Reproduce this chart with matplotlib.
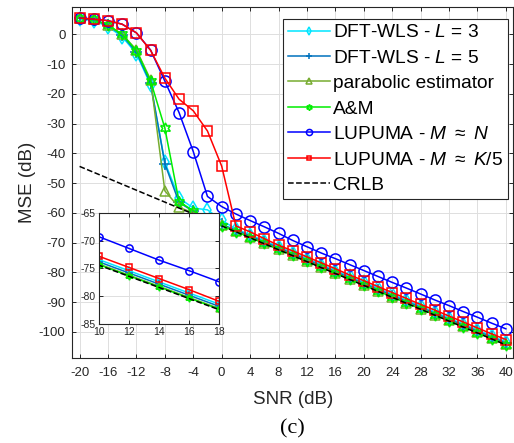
import matplotlib.pyplot as plt

plt.rcParams['font.family'] = ['Liberation Sans', 'DejaVu Sans']
plt.rcParams['mathtext.fontset'] = 'custom'
plt.rcParams['mathtext.rm'] = 'Liberation Sans'
plt.rcParams['mathtext.it'] = 'Liberation Sans:italic'
plt.rcParams['axes.unicode_minus'] = False

snr = [-20, -18, -16, -14, -12, -10, -8, -6, -4, -2, 0, 2, 4, 6, 8, 10,
       12, 14, 16, 18, 20, 22, 24, 26, 28, 30, 32, 34, 36, 38, 40]

dft_l3 = [5.2, 4.6, 2.6, -0.8, -6.5, -17.0, -43.0, -55.0, -58.4, -59.0, -62.5,
          -65.4, -67.4, -69.4, -71.4, -73.4, -75.4, -77.4, -79.4, -81.4, -83.4,
          -85.4, -87.4, -89.4, -91.4, -93.4, -95.4, -97.4, -99.4, -101.4, -103.4]
dft_l5 = [5.4, 4.9, 3.0, -0.3, -6.0, -16.5, -43.5, -56.5, -59.5, -62.0, -63.9,
          -65.8, -67.8, -69.8, -71.8, -73.8, -75.8, -77.8, -79.8, -81.8, -83.8,
          -85.8, -87.8, -89.8, -91.8, -93.8, -95.8, -97.8, -99.8, -101.8, -103.8]
parabolic = [5.5, 5.0, 3.1, 0.0, -5.2, -15.3, -52.6, -58.2, -60.0, -62.2, -64.2,
             -66.2, -68.2, -70.2, -72.2, -74.2, -76.2, -78.2, -80.2, -82.2, -84.2,
             -86.2, -88.2, -90.2, -92.2, -94.2, -96.2, -98.2, -100.2, -102.2, -104.2]
am = [5.5, 5.0, 3.1, 0.0, -5.5, -15.7, -31.5, -56.2, -59.3, -62.0, -64.3,
      -66.3, -68.3, -70.3, -72.3, -74.3, -76.3, -78.3, -80.3, -82.3, -84.3,
      -86.3, -88.3, -90.3, -92.3, -94.3, -96.3, -98.3, -100.3, -102.3, -104.3]
lupuma_n = [5.5, 5.1, 4.6, 3.4, 0.5, -5.3, -15.7, -26.3, -39.4, -54.5, -57.9,
            -60.4, -62.6, -64.7, -66.9, -69.3, -71.4, -73.5, -75.4, -77.4, -79.4,
            -81.4, -83.4, -85.3, -87.3, -89.3, -91.2, -93.2, -95.1, -97.1, -99.0]
lupuma_k5 = [5.5, 5.1, 4.6, 3.4, 0.5, -5.4, -14.7, -21.8, -25.7, -32.5, -44.3,
             -64.4, -66.4, -68.7, -70.9, -72.8, -74.8, -76.8, -78.8, -80.9, -82.8,
             -84.8, -86.8, -88.8, -90.8, -92.7, -94.7, -96.7, -98.7, -100.7, -102.6]
crlb = [-44.4, -46.4, -48.4, -50.4, -52.4, -54.4, -56.4, -58.4, -60.4, -62.4, -64.4,
        -66.4, -68.4, -70.4, -72.4, -74.4, -76.4, -78.4, -80.4, -82.4, -84.4,
        -86.4, -88.4, -90.4, -92.4, -94.4, -96.4, -98.4, -100.4, -102.4, -104.4]

labels = [r'DFT-WLS - $\mathit{L}$ = $\mathit{3}$',
          r'DFT-WLS - $\mathit{L}$ = $\mathit{5}$',
          'parabolic estimator',
          'A&M',
          r'LUPUMA - $\mathit{M}$ $\approx$ $\mathit{N}$',
          r'LUPUMA - $\mathit{M}$ $\approx$ $\mathit{K/5}$',
          'CRLB']

hexagram = (6, 1, 0)
styles = [
    (dft_l3, '#00e5ff', 'd', 7),
    (dft_l5, '#0072bd', '+', 8),
    (parabolic, '#77ac30', '^', 7),
    (am, '#00ee00', hexagram, 8),
    (lupuma_n, '#0000ff', 'o', 8),
    (lupuma_k5, '#ff0000', 's', 6.5),
]

txt = '#262626'
fig = plt.figure(figsize=(5.14, 4.43), dpi=100)
ax = fig.add_axes([0.141, 0.1926, 0.857, 0.791])

def draw(a, ms_scale):
    lines = []
    for (y, c, m, ms), lab in zip(styles, labels):
        ln, = a.plot(snr, y, '-', color=c, marker=m, markersize=ms * ms_scale,
                     markerfacecolor='none', markeredgecolor=c, lw=1.1,
                     mew=1.1, label=lab)
        lines.append(ln)
    ln, = a.plot(snr, crlb, '--', color='k', lw=1.1, label=labels[-1])
    lines.append(ln)
    a.grid(True, color='#dedede', lw=0.7)
    a.set_axisbelow(True)
    a.tick_params(direction='in', top=True, right=True, colors=txt, width=0.7,
                  length=3)
    for s in a.spines.values():
        s.set_color(txt)
        s.set_linewidth(0.8)
    return lines

lines = draw(ax, 1.0)
ax.set_xlim(-21, 41)
ax.set_ylim(-108.7, 9.1)
ax.set_xticks(range(-20, 41, 4))
ax.set_yticks(range(-100, 1, 10))
ax.tick_params(labelsize=9.5)
ax.tick_params(axis='x', pad=7)
ax.tick_params(axis='y', pad=5)
ax.set_xlabel('SNR (dB)', fontsize=13.5, color=txt, labelpad=8)
ax.set_ylabel('MSE (dB)', fontsize=13.5, color=txt, labelpad=2)
ax.set_title('(c)', y=-0.24, fontsize=16, family='Liberation Serif', color='k')

leg = ax.legend(handles=lines, loc='upper right', bbox_to_anchor=(0.988, 0.957),
                bbox_transform=fig.transFigure, fontsize=13.8, fancybox=False,
                framealpha=1, edgecolor=txt, labelspacing=0.42, handlelength=2.2,
                handletextpad=0.15, borderpad=0.25, borderaxespad=0,
                markerscale=0.55)
leg.get_frame().set_linewidth(0.8)
for t in leg.get_texts():
    t.set_color('k')

ins = fig.add_axes([0.192, 0.268, 0.2346, 0.252])
ins.set_facecolor('white')
draw(ins, 0.65)
ins.set_xlim(10, 18)
ins.set_ylim(-85, -65)
ins.set_xticks([10, 12, 14, 16, 18])
ins.set_yticks([-85, -80, -75, -70, -65])
ins.tick_params(labelsize=7.5, pad=2)

fig.savefig('out.png', dpi=100)
